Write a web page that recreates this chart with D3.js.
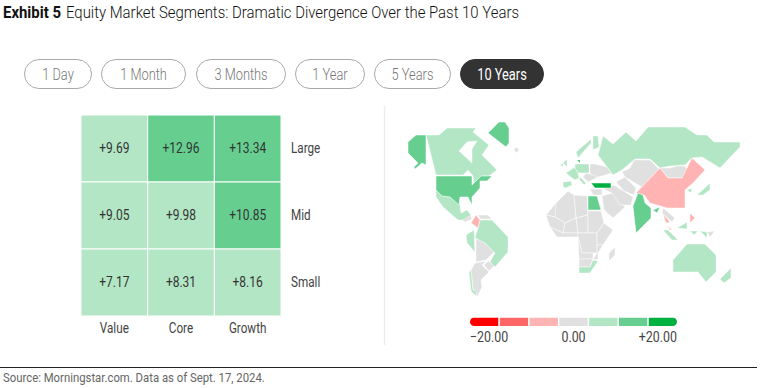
<!DOCTYPE html>
<html lang="en">

<head>
    <title>Equity Market Segments</title>
    <meta charset="utf-8">
    <script src="https://d3js.org/d3.v7.min.js"></script>
    <style>
        html, body { margin: 0; padding: 0; background: #fff; overflow: hidden; }
        svg { display: block; }
        text { font-family: Roboto, "Liberation Sans", sans-serif; }
    </style>
</head>

<body>
    <div id="chart"></div>
    <script>
        // Data
        const styles = ["Value", "Core", "Growth"];
        const sizes = ["Large", "Mid", "Small"];
        const returns = [
            [9.69, 12.96, 13.34],
            [9.05, 9.98, 10.85],
            [7.17, 8.31, 8.16]
        ];
        const periods = ["1 Day", "1 Month", "3 Months", "1 Year", "5 Years", "10 Years"];
        const periodEdges = [[24, 92], [101, 186], [196, 286], [295, 365], [374, 451], [460, 544]];
        const activePeriod = "10 Years";
        const legendBins = [-20, -12, -5, 0, 5, 12, 20];
        const legendLabels = ["\u221220.00", "0.00", "+20.00"];

        // Map shapes, in map grid units, grouped by legend bin
        const mapPink = [
            [[251, 78], [275, 53], [283, 63], [297, 63], [307, 43], [320, 55], [308, 68], [300, 75], [300, 93], [282, 93], [265, 88], [259, 80]],
            [[91, 100], [95, 105], [93, 113], [86, 108]],
            [[278, 99], [285, 107], [281, 108]],
            [[305, 98], [310, 103], [305, 108]],
            [[282, 110], [287, 115], [285, 115]]
        ];
        const mapNeutral = [
            // Iceland, central america, venezuela
            [[129, 34], [132, 32], [134, 35], [131, 38]],
            [[75, 103], [85, 99], [87, 104], [80, 107]],
            [[93, 100], [103, 100], [107, 104], [95, 104]],
            // south america
            [[91, 124], [98, 126], [109, 137], [101, 145], [91, 147]],
            [[103, 146], [110, 150], [104, 156], [99, 150]],
            [[90, 148], [101, 146], [97, 150], [104, 157], [96, 165], [97, 172], [92, 182], [88, 174], [86, 155]],
            // africa
            [[161, 100], [171, 88], [177, 90], [170, 102]],
            [[171, 88], [183, 76], [189, 80], [191, 103], [180, 108], [170, 102]],
            [[189, 80], [202, 81], [203, 100], [191, 103]],
            [[191, 103], [203, 100], [203, 118], [193, 118]],
            [[203, 96], [216, 96], [219, 108], [212, 118], [203, 118]],
            [[161, 100], [170, 102], [180, 108], [178, 118], [165, 112]],
            [[180, 108], [191, 103], [193, 118], [178, 118]],
            [[165, 112], [178, 118], [193, 118], [193, 122], [172, 122]],
            [[193, 122], [193, 118], [212, 118], [212, 138], [197, 138]],
            [[212, 118], [219, 108], [228, 115], [218, 130], [212, 130]],
            [[212, 130], [218, 130], [213, 138], [213, 145], [208, 144], [212, 138]],
            [[193, 122], [197, 138], [208, 138], [208, 144], [194, 144]],
            [[194, 144], [208, 144], [205, 152], [194, 152]],
            [[224, 138], [230, 132], [230, 140], [224, 146]],
            // middle east and central asia
            [[217, 81], [227, 78], [240, 92], [228, 103], [219, 95]],
            [[205, 74], [217, 74], [217, 80], [208, 80]],
            [[218, 74], [229, 70], [248, 82], [246, 90], [235, 90], [227, 78]],
            [[231, 67], [240, 62], [251, 73], [249, 80], [239, 76]],
            [[237, 57], [245, 53], [249, 45], [265, 45], [274, 54], [257, 72], [240, 62]],
            [[275, 53], [285, 53], [292, 51], [300, 51], [303, 56], [297, 63], [283, 63]],
            // europe
            [[205, 49], [210, 49], [222, 52], [227, 58], [210, 63], [205, 58]],
            [[201, 58], [208, 60], [213, 62], [203, 67], [198, 62]],
            // south east asia
            [[278, 93], [290, 103], [287, 107], [277, 98]],
            [[322, 117], [330, 116], [325, 122]]
        ];
        const mapLight = [
            // canada, with hudson bay cut out
            [[41, 20], [54, 20], [62, 13], [91, 13], [88, 17], [104, 30], [97, 40], [112, 55], [104, 61], [96, 61], [89, 68], [88, 61], [83, 55], [78, 60], [51, 60]],
            [[74, 36], [82, 27], [92, 26], [87, 34], [87, 48]],
            // mexico, brazil, peru, chile
            [[51, 75], [57, 81], [65, 82], [75, 90], [76, 98], [82, 95], [86, 100], [78, 105], [73, 105], [58, 92], [51, 82]],
            [[95, 105], [107, 105], [123, 122], [123, 137], [110, 152], [105, 147], [110, 138], [100, 128], [90, 123], [93, 113]],
            [[89, 115], [90, 137], [82, 128], [81, 120]],
            [[84, 157], [86, 155], [88, 175], [91, 176], [91, 181], [86, 176]],
            // russia and finland
            [[218, 21], [228, 29], [241, 17], [251, 26], [263, 12], [300, 12], [312, 20], [322, 20], [329, 27], [355, 27], [355, 32], [335, 53], [317, 42], [307, 43], [300, 50], [285, 51], [275, 53], [265, 44], [250, 44], [237, 55], [228, 60], [222, 52], [213, 40]],
            [[208, 21], [213, 21], [214, 32], [208, 35]],
            // europe
            [[191, 37], [206, 24], [206, 28], [193, 43]],
            [[178, 48], [182, 44], [182, 52]],
            [[175, 50], [178, 48], [178, 52]],
            [[181, 58], [190, 52], [193, 58], [194, 63], [190, 65], [187, 63]],
            [[190, 49], [204, 49], [204, 58], [193, 58], [190, 53]],
            [[178, 67], [186, 66], [187, 70], [181, 73], [178, 72]],
            [[195, 62], [201, 68], [199, 70], [194, 64]],
            // south africa, australia, new zealand
            [[194, 152], [205, 152], [208, 145], [213, 146], [205, 158], [194, 158]],
            [[288, 145], [302, 129], [320, 129], [331, 140], [331, 157], [321, 167], [313, 157], [288, 157]],
            [[346, 153], [346, 163], [339, 168], [335, 164]],
            // japan, korea, indonesia
            [[312, 80], [325, 68], [325, 75], [318, 80]],
            [[302, 75], [307, 73], [306, 78]],
            [[292, 113], [302, 107], [302, 114]],
            [[278, 115], [283, 115], [293, 125], [287, 125]],
            [[305, 116], [313, 116], [309, 120]],
            [[315, 116], [322, 123], [322, 117]]
        ];
        const mapMid = [
            // alaska, usa, greenland, egypt, india, bangladesh
            [[23, 27], [31, 20], [41, 20], [41, 50], [37, 48], [30, 54], [29, 52], [33, 48], [23, 38]],
            [[51, 61], [87, 61], [87, 70], [96, 61], [107, 61], [102, 66], [95, 66], [95, 73], [87, 82], [87, 90], [83, 82], [75, 82], [74, 90], [65, 82], [57, 81], [51, 75]],
            [[103, 18], [114, 7], [120, 7], [124, 13], [124, 28], [121, 32]],
            [[203, 81], [212, 81], [216, 95], [203, 95]],
            [[248, 91], [253, 78], [258, 80], [260, 88], [266, 93], [266, 103], [251, 118]],
            [[268, 95], [275, 92], [272, 98]]
        ];
        const mapStrong = [
            [[206, 68], [226, 68], [226, 73], [210, 73]],
            [[192, 45], [195, 45], [195, 48]]
        ];

        const width = 760;
        const height = 388;

        const svg = d3.select("#chart")
            .append("svg")
            .attr("width", width)
            .attr("height", height);

        // squeeze text sideways, the reference uses a condensed face
        function narrow(selection, factor) {
            selection.each(function () {
                const w = this.getComputedTextLength();
                d3.select(this)
                    .attr("textLength", w * factor)
                    .attr("lengthAdjust", "spacingAndGlyphs");
            });
        }

        const color = d3.scaleOrdinal()
            .domain(legendBins)
            .range(["#ff0000", "#ff6666", "#ffb3b3", "#e0e0e0", "#b3e6c5", "#66cf90", "#00b140"]);

        const cellColor = d3.scaleThreshold()
            .domain([-15, -10, -0.5, 0.5, 10, 15])
            .range(color.range());

        // Title
        svg.append("text")
            .attr("x", 3)
            .attr("y", 18)
            .attr("textLength", 58)
            .attr("lengthAdjust", "spacingAndGlyphs")
            .style("font-size", "17px")
            .style("font-weight", "700")
            .style("fill", "#111")
            .text("Exhibit 5");

        svg.append("text")
            .attr("x", 66)
            .attr("y", 18)
            .attr("textLength", 453)
            .attr("lengthAdjust", "spacingAndGlyphs")
            .style("font-size", "17px")
            .style("font-weight", "300")
            .style("fill", "#111")
            .text("Equity Market Segments: Dramatic Divergence Over the Past 10 Years");

        // Period buttons
        const buttons = svg.selectAll("g.period")
            .data(periods)
            .join("g")
            .attr("class", "period");

        buttons.append("rect")
            .attr("x", (d, i) => periodEdges[i][0] + 0.5)
            .attr("y", 59.5)
            .attr("width", (d, i) => periodEdges[i][1] - periodEdges[i][0] - 1)
            .attr("height", 29)
            .attr("rx", 14.5)
            .attr("fill", d => d === activePeriod ? "#333" : "#fff")
            .attr("stroke", d => d === activePeriod ? "#333" : "#aaa");

        buttons.append("text")
            .attr("x", (d, i) => (periodEdges[i][0] + periodEdges[i][1]) / 2)
            .attr("y", 80)
            .attr("text-anchor", "middle")
            .style("font-size", "16px")
            .style("font-weight", d => d === activePeriod ? "400" : "300")
            .style("fill", d => d === activePeriod ? "#fff" : "#777")
            .text(d => d)
            .call(narrow, 0.8);

        // Heatmap
        const xBand = d3.scaleBand().domain(styles).range([81, 281]);
        const yBand = d3.scaleBand().domain(sizes).range([115, 316]);

        sizes.forEach((size, r) => {
            styles.forEach((style, c) => {
                const v = returns[r][c];
                svg.append("rect")
                    .attr("x", xBand(style))
                    .attr("y", yBand(size))
                    .attr("width", xBand.bandwidth())
                    .attr("height", yBand.bandwidth())
                    .attr("fill", cellColor(v))
                    .attr("stroke", "#fff");
                svg.append("text")
                    .attr("x", xBand(style) + xBand.bandwidth() / 2)
                    .attr("y", yBand(size) + yBand.bandwidth() / 2 - 0.5)
                    .attr("dy", "0.35em")
                    .attr("text-anchor", "middle")
                    .style("font-size", "15px")
                    .style("fill", "#333")
                    .text(`+${v.toFixed(2)}`)
                    .call(narrow, 0.8);
            });
        });

        svg.selectAll("text.col")
            .data(styles)
            .join("text")
            .attr("class", "col")
            .attr("x", d => xBand(d) + xBand.bandwidth() / 2)
            .attr("y", 328)
            .attr("dy", "0.35em")
            .attr("text-anchor", "middle")
            .style("font-size", "15px")
            .style("fill", "#444")
            .text(d => d)
            .call(narrow, 0.78);

        svg.selectAll("text.row")
            .data(sizes)
            .join("text")
            .attr("class", "row")
            .attr("x", 291)
            .attr("y", d => yBand(d) + yBand.bandwidth() / 2 - 0.5)
            .attr("dy", "0.35em")
            .style("font-size", "15px")
            .style("fill", "#444")
            .text(d => d)
            .call(narrow, 0.78);

        // Divider
        svg.append("line")
            .attr("x1", 384.5).attr("x2", 384.5)
            .attr("y1", 106).attr("y2", 345)
            .attr("stroke", "#ececec")
            .attr("stroke-width", 1.5);

        // Map
        const xMap = d3.scaleLinear().domain([0, 360]).range([385, 745]);
        const yMap = d3.scaleLinear().domain([0, 200]).range([115, 315]);
        const ring = d3.line().x(d => xMap(d[0])).y(d => yMap(d[1]));
        const ringPath = d => ring(d) + "Z";

        const mapGroups = [
            [mapNeutral, legendBins[3]],
            [mapLight.slice(2), legendBins[4]],
            [mapPink, legendBins[2]],
            [mapMid, legendBins[5]],
            [mapStrong, legendBins[6]]
        ];

        const map = svg.append("g");

        // canada needs the bay as a hole
        map.append("path")
            .attr("d", ringPath(mapLight[0]) + ringPath(mapLight[1]))
            .attr("fill-rule", "evenodd")
            .attr("fill", color(legendBins[4]))
            .attr("stroke", "#fff")
            .attr("stroke-width", 0.5);

        mapGroups.forEach(([shapes, bin]) => {
            map.append("g")
                .selectAll("path")
                .data(shapes)
                .join("path")
                .attr("d", ringPath)
                .attr("fill", color(bin))
                .attr("stroke", "#fff")
                .attr("stroke-width", 0.5);
        });

        // Legend
        const xLegend = d3.scaleBand().domain(legendBins).range([470, 677]).paddingInner(0.05);

        svg.append("clipPath")
            .attr("id", "legend-clip")
            .append("rect")
            .attr("x", 470)
            .attr("y", 317.5)
            .attr("width", 207)
            .attr("height", 8.5)
            .attr("rx", 4.25);

        svg.append("g")
            .attr("clip-path", "url(#legend-clip)")
            .selectAll("rect")
            .data(legendBins)
            .join("rect")
            .attr("x", d => xLegend(d))
            .attr("y", 317.5)
            .attr("width", xLegend.bandwidth())
            .attr("height", 8.5)
            .attr("fill", d => color(d));

        svg.selectAll("text.legend")
            .data(legendLabels)
            .join("text")
            .attr("class", "legend")
            .attr("x", (d, i) => [470, 573.5, 677][i])
            .attr("y", 342)
            .attr("text-anchor", (d, i) => ["start", "middle", "end"][i])
            .style("font-size", "15.5px")
            .style("fill", "#444")
            .text(d => d)
            .call(narrow, 0.8);

        // Footer
        svg.append("line")
            .attr("x1", 0).attr("x2", 757)
            .attr("y1", 367.5).attr("y2", 367.5)
            .attr("stroke", "#222");

        svg.append("text")
            .attr("x", 3)
            .attr("y", 382)
            .style("font-size", "13.5px")
            .style("fill", "#666")
            .text("Source: Morningstar.com. Data as of Sept. 17, 2024.")
            .call(narrow, 0.84);
    </script>
</body>

</html>
